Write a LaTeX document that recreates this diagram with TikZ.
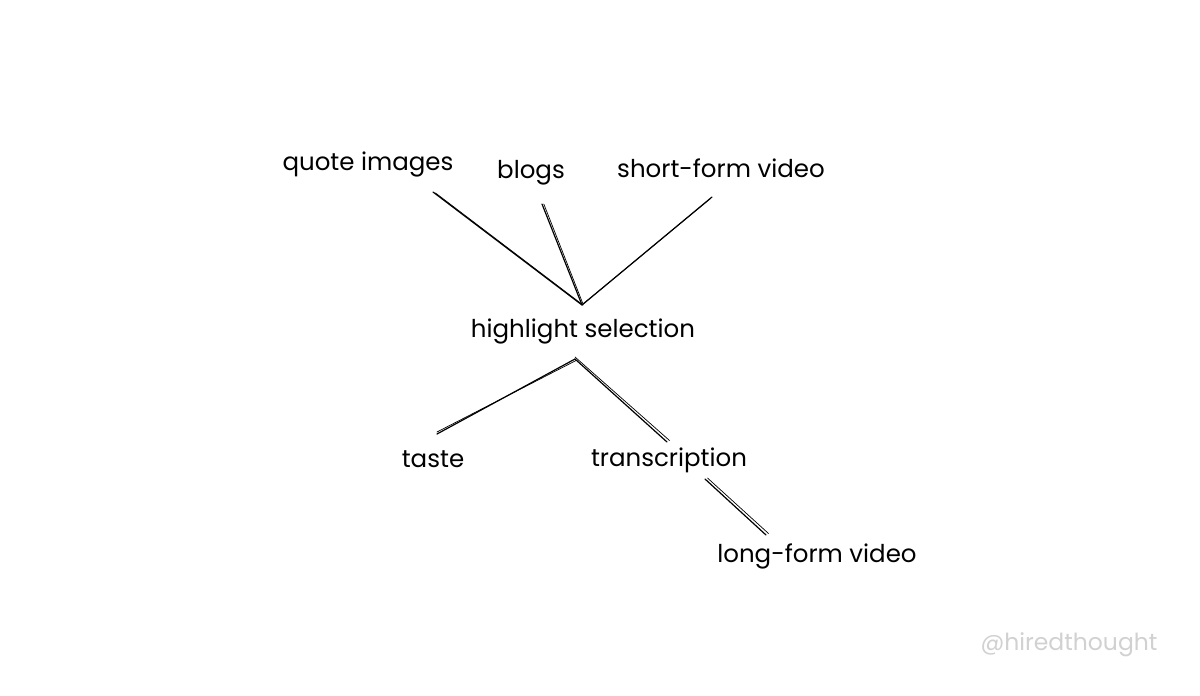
\documentclass[tikz,border=0pt]{standalone}
\usepackage{fontspec}
\setmainfont{Poppins}
\begin{document}
\begin{tikzpicture}[x=1pt,y=-1pt,
  lbl/.style={anchor=base,inner sep=0pt,font=\fontsize{24.5}{29}\selectfont,text=black},
  wm/.style={anchor=base,inner sep=0pt,font=\fontsize{23.5}{28}\selectfont,text=black!18},
  ink/.style={line width=1.2pt,black,line cap=round},
  ink2/.style={line width=0.7pt,black,line cap=round}]
\useasboundingbox[fill=white] (0,0) rectangle (1200,696);
% labels
\node[lbl] (qi) at (368,170) {quote images};
\node[lbl] (bl) at (531,178) {blogs};
\node[lbl] (sf) at (721,177) {short-form video};
\node[lbl] (hs) at (583,337) {highlight selection};
\node[lbl] (ta) at (433,467) {taste};
\node[lbl] (tr) at (669,466) {transcription};
\node[lbl] (lf) at (817,562) {long-form video};
\node[wm] (ht) at (1069,650) {@hiredthought};
% connector ends
\coordinate (qiE) at (433,192);
\coordinate (blE) at (542,204);
\coordinate (sfE) at (712,197);
\coordinate (hsT) at (582,305);
\coordinate (hsB) at (575,359);
\coordinate (taE) at (437,434);
\coordinate (trT) at (667,442);
\coordinate (trB) at (705,479);
\coordinate (lfE) at (766,535);
% connectors (sketchy double strokes)
\draw[ink] (qiE) -- (hsT);
\draw[ink2] ([shift={(2.5,1)}]qiE) -- ([shift={(1,0)}]hsT);
\draw[ink] (blE) -- (hsT);
\draw[ink2] ([shift={(1.8,0)}]blE) -- ([shift={(1,-1)}]hsT);
\draw[ink] (sfE) -- (hsT);
\draw[ink2] ([shift={(-1.5,1.5)}]sfE) -- ([shift={(1,-1)}]hsT);
\draw[ink] (hsB) -- (taE);
\draw[ink2] ([shift={(1,1.5)}]hsB) -- ([shift={(0,-2)}]taE);
\draw[ink] (hsB) -- (trT);
\draw[ink2] ([shift={(0,-2)}]hsB) -- ([shift={(2.5,-1.5)}]trT);
\draw[ink] (trB) -- (lfE);
\draw[ink2] ([shift={(2.5,-1)}]trB) -- ([shift={(2.5,-1.5)}]lfE);
\end{tikzpicture}
\end{document}
